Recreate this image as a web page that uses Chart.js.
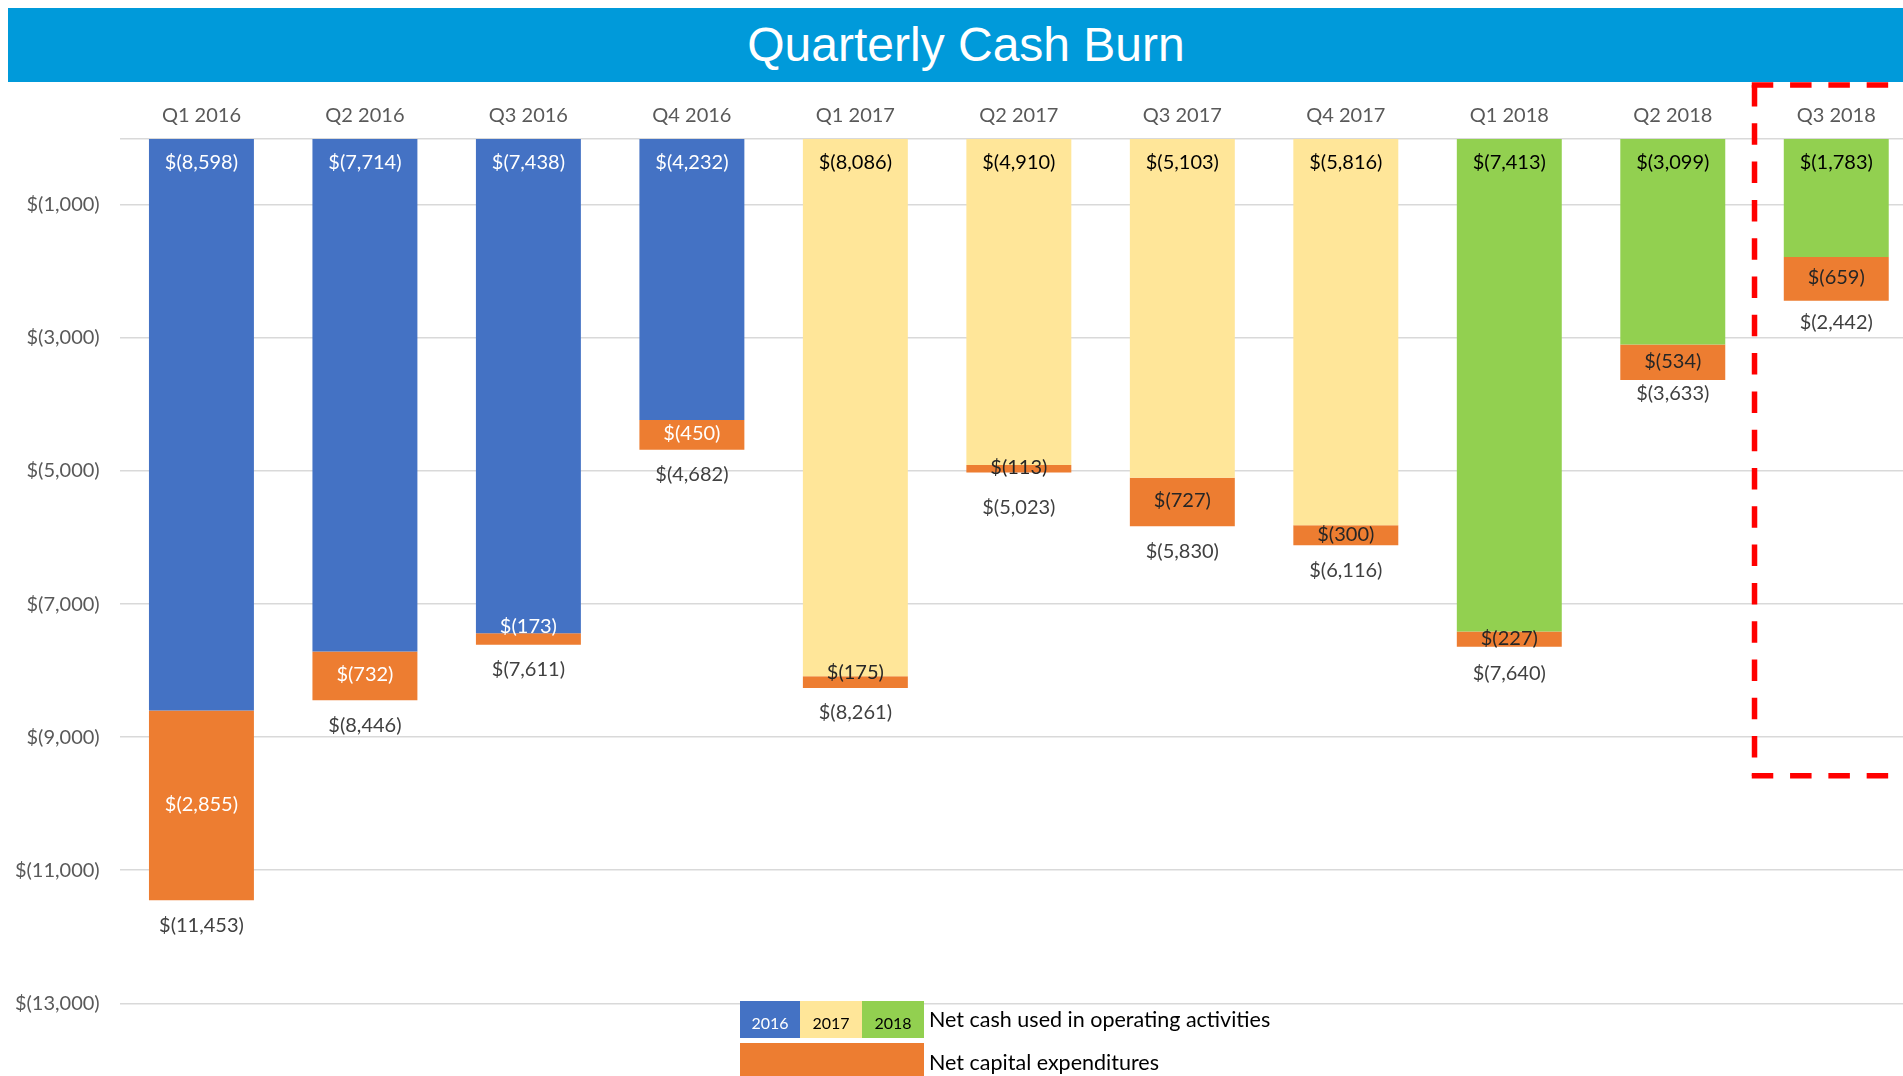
<!DOCTYPE html>
<html><head><meta charset="utf-8">
<title>Quarterly Cash Burn</title>
<script src="https://cdn.jsdelivr.net/npm/chart.js@4/dist/chart.umd.min.js"></script>
<style>
html,body{margin:0;padding:0;background:#fff;overflow:hidden;width:1903px;height:1076px;}
#wrap{position:relative;width:1920px;height:1076px;overflow:hidden;}
#c{position:absolute;left:0;top:0;}
#banner{position:absolute;left:8px;top:8px;width:1916px;height:74px;background:#009ADA;color:#fff;
  font-family:"Liberation Sans",Arial,sans-serif;font-size:48px;text-align:center;line-height:74px;white-space:nowrap;}
.lg{position:absolute;font-family:Lato,"Noto Sans",sans-serif;}
.box{text-align:center;font-size:16px;line-height:37px;height:37px;top:1001px;}
.box span{position:relative;top:3px;}
.ltxt{font-size:21.5px;color:#000;white-space:nowrap;line-height:26px;}
</style>
</head>
<body>
<div id="wrap">
  <canvas id="c" width="1920" height="1076"></canvas>
  <div id="banner">Quarterly Cash Burn</div>
  <div class="lg box" style="left:740px;width:60px;background:#4472C4;color:#fff;"><span>2016</span></div>
  <div class="lg box" style="left:800px;width:62px;background:#FFE699;color:#000;"><span>2017</span></div>
  <div class="lg box" style="left:862px;width:62px;background:#92D050;color:#000;"><span>2018</span></div>
  <div class="lg" style="left:740px;top:1043px;width:184px;height:40px;background:#ED7D31;"></div>
  <div class="lg ltxt" style="left:929px;top:1006px;">Net cash used in operating activities</div>
  <div class="lg ltxt" style="left:929px;top:1049px;">Net capital expenditures</div>
</div>
<script>
// ---- data ----
const quarters = ['Q1 2016','Q2 2016','Q3 2016','Q4 2016','Q1 2017','Q2 2017','Q3 2017','Q4 2017','Q1 2018','Q2 2018','Q3 2018'];
const years    = ['2016','2016','2016','2016','2017','2017','2017','2017','2018','2018','2018'];
const operating = [-8598, -7714, -7438, -4232, -8086, -4910, -5103, -5816, -7413, -3099, -1783];
const capex     = [-2855, -732, -173, -450, -175, -113, -727, -300, -227, -534, -659];
const totals    = [-11453, -8446, -7611, -4682, -8261, -5023, -5830, -6116, -7640, -3633, -2442];
const yTicks    = [0, -1000, -3000, -5000, -7000, -9000, -11000, -13000];

// ---- styles ----
const yearColors = {'2016':'#4472C4','2017':'#FFE699','2018':'#92D050'};
const yearText   = {'2016':'#FFFFFF','2017':'#000000','2018':'#000000'};
const capexColor = '#ED7D31';
const FONT = 'Lato';
const fmt = v => '$(' + Math.abs(v).toLocaleString('en-US') + ')';

const labelPlugin = {
  id: 'barLabels',
  afterDatasetsDraw(chart) {
    const ctx = chart.ctx;
    const m0 = chart.getDatasetMeta(0), m1 = chart.getDatasetMeta(1);
    ctx.save();
    ctx.font = '20px ' + FONT;
    ctx.textAlign = 'center';
    ctx.textBaseline = 'middle';
    const capNudge = {2: -11, 4: -9};
    const totNudge = {5: 10, 8: 2, 9: -11, 10: -3};
    quarters.forEach((q, i) => {
      const b0 = m0.data[i], b1 = m1.data[i];
      ctx.fillStyle = yearText[years[i]];
      ctx.fillText(fmt(operating[i]), b0.x, b0.base + 23);
      ctx.fillStyle = years[i] === '2016' ? '#FFFFFF' : '#262626';
      ctx.fillText(fmt(capex[i]), b1.x, (b1.y + b1.base) / 2 - 1 + (capNudge[i] || 0));
      ctx.fillStyle = '#404040';
      ctx.fillText(fmt(totals[i]), b1.x, b1.y + 25 + (totNudge[i] || 0));
    });
    ctx.restore();
  }
};

const boxPlugin = {
  id: 'highlightBox',
  afterDraw(chart) {
    const ctx = chart.ctx, xs = chart.scales.x, ys = chart.scales.y;
    const band = (chart.chartArea.right - chart.chartArea.left) / quarters.length;
    const left = xs.getPixelForValue(quarters.length - 1) - band / 2;
    const top = 85, bottom = ys.getPixelForValue(-9580);
    const right = chart.width + 20;
    ctx.save();
    ctx.strokeStyle = '#FF0000';
    ctx.lineWidth = 5.5;
    ctx.setLineDash([21.5, 16.8]);
    ctx.beginPath(); ctx.moveTo(left - 2.75, top); ctx.lineTo(right, top); ctx.stroke();
    ctx.beginPath(); ctx.moveTo(left, top); ctx.lineTo(left, bottom); ctx.stroke();
    ctx.beginPath(); ctx.moveTo(left - 2.75, bottom); ctx.lineTo(right, bottom); ctx.stroke();
    ctx.restore();
  }
};

new Chart(document.getElementById('c'), {
  type: 'bar',
  data: {
    labels: quarters,
    datasets: [
      { label: 'Net cash used in operating activities', data: operating,
        backgroundColor: years.map(y => yearColors[y]) },
      { label: 'Net capital expenditures', data: capex, backgroundColor: capexColor }
    ]
  },
  options: {
    responsive: false,
    animation: false,
    devicePixelRatio: 1,
    layout: { padding: { left: 0, right: 2, top: 0, bottom: 72.7 } },
    datasets: { bar: { barPercentage: 0.642, categoryPercentage: 1 } },
    plugins: { legend: { display: false }, tooltip: { enabled: false }, title: { display: false } },
    scales: {
      x: {
        position: 'top', stacked: true,
        grid: { display: false, drawTicks: false },
        border: { display: false },
        ticks: { font: { family: FONT, size: 20 }, color: '#595959', padding: 11, maxRotation: 0, autoSkip: false },
        afterFit: s => { s.height = 138.3; }
      },
      y: {
        stacked: true, min: -13000, max: 0,
        afterBuildTicks: s => { s.ticks = yTicks.map(v => ({ value: v })); },
        ticks: { callback: v => v === 0 ? '' : fmt(v), font: { family: FONT, size: 20 }, color: '#595959', padding: 20 },
        grid: { color: '#D9D9D9', lineWidth: 1.5, drawTicks: false },
        border: { display: false },
        afterFit: s => { s.width = 119.7; }
      }
    }
  },
  plugins: [labelPlugin, boxPlugin]
});
</script>
</body></html>
